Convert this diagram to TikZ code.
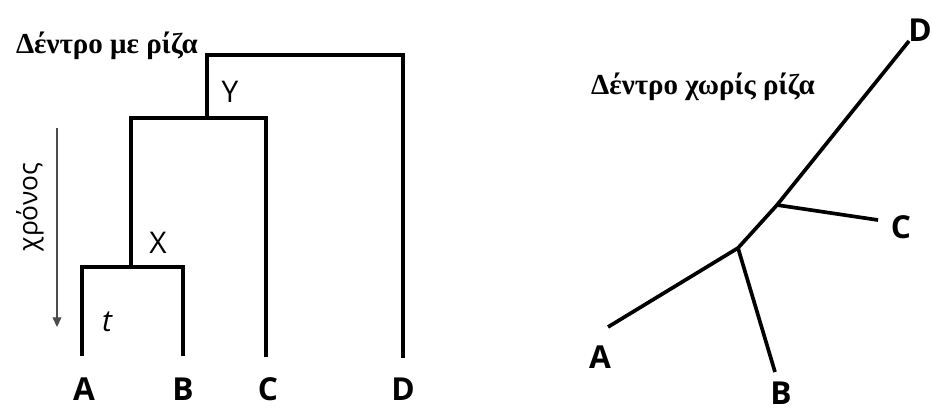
\documentclass[tikz,border=0pt]{standalone}
\usepackage{fontspec}
\setmainfont{Liberation Serif}
\setsansfont{Open Sans}
\usetikzlibrary{arrows.meta}

\tikzset{
  branch/.style={line width=2.3pt, line join=miter},
  leaf/.style={font=\sffamily\bfseries\fontsize{18}{18}\selectfont, inner sep=0pt},
  inner/.style={font=\sffamily\fontsize{17}{17}\selectfont, inner sep=0pt},
  heading/.style={font=\bfseries\fontsize{16.5}{16.5}\selectfont, inner sep=0pt}
}

\begin{document}
\begin{tikzpicture}[x=0.02cm, y=-0.02cm]
  \useasboundingbox (0,0) rectangle (932,410);

  % Rooted tree
  \node[heading] (rtitle) at (107,46) {Δέντρο με ρίζα};
  \node[leaf] (la) at (84,389) {A};
  \node[leaf] (lb) at (183,389) {B};
  \node[leaf] (lc) at (268,389) {C};
  \node[leaf] (ld) at (403,389) {D};
  \coordinate (atip) at (82,356);
  \coordinate (btip) at (183,356);
  \coordinate (ctip) at (266,357);
  \coordinate (dtip) at (403,358);
  \coordinate (x) at (131,267);
  \coordinate (y) at (207,118);
  \coordinate (root) at (207,55);
  \draw[branch] (atip) |- (x) -| (btip);
  \draw[branch] (x) |- (y) -| (ctip);
  \draw[branch] (y) -- (root) -| (dtip);
  \node[inner] (xlab) at (158,243) {X};
  \node[inner] (ylab) at (230,92) {Y};
  \node[inner, font=\sffamily\itshape\fontsize{17}{17}\selectfont] (tlab) at (107,322) {t};

  % time axis
  \coordinate (tstart) at (57,128);
  \coordinate (tend) at (57,327);
  \draw[gray!60!black, line width=0.6pt, -{Triangle[width=5pt,length=5.5pt]}] (tstart) -- (tend);
  \node[font=\sffamily\fontsize{15}{15}\selectfont, rotate=90, inner sep=0pt] (time) at (30,207) {χρόνος};

  % Unrooted tree
  \node[heading] (utitle) at (703,87) {Δέντρο χωρίς ρίζα};
  \coordinate (u1) at (738,248);
  \coordinate (u2) at (777,205);
  \coordinate (ua) at (608,327);
  \coordinate (ub) at (775,372);
  \coordinate (uc) at (878,220);
  \coordinate (ud) at (909,41);
  \draw[branch, line width=2.1pt] (ua) -- (u1) -- (u2) -- (ud);
  \draw[branch, line width=2.1pt] (u1) -- (ub);
  \draw[branch, line width=2.1pt] (u2) -- (uc);
  \node[leaf] (na) at (600,357) {A};
  \node[leaf] (nb) at (781,393) {B};
  \node[leaf] (nc) at (901,227) {C};
  \node[leaf] (nd) at (920,30) {D};
\end{tikzpicture}
\end{document}
